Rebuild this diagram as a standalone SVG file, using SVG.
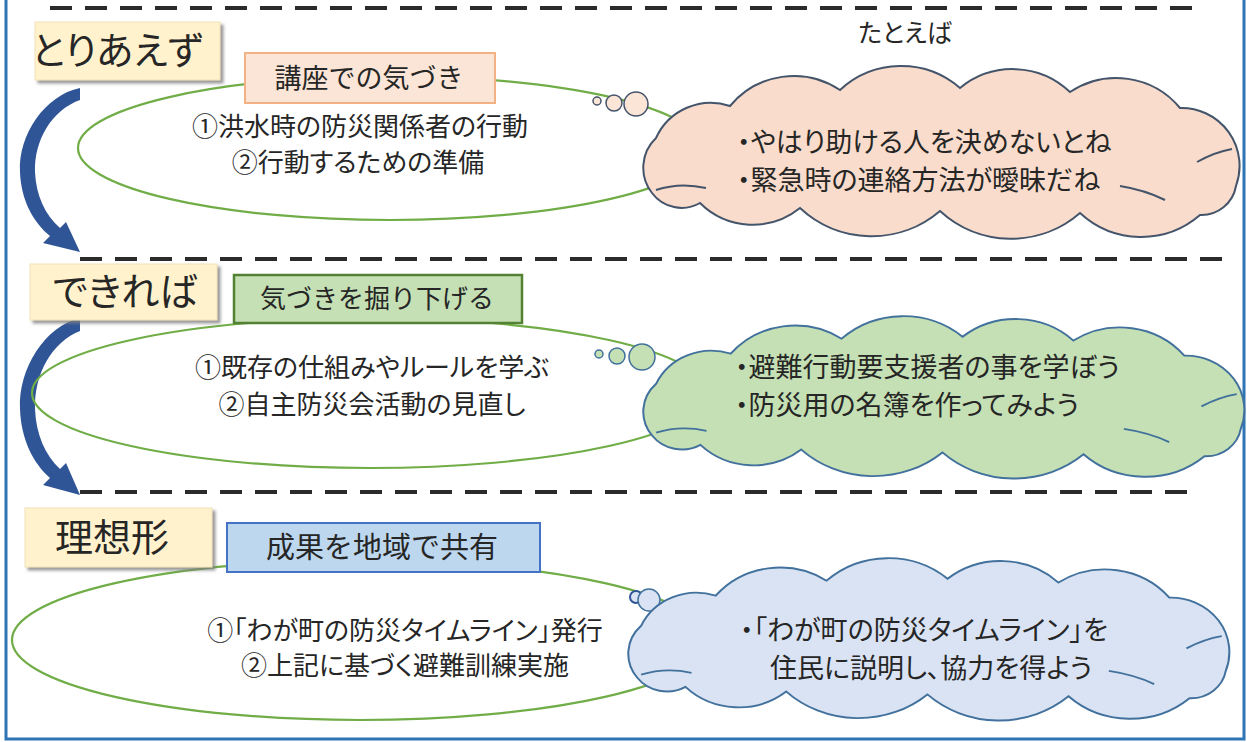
<svg xmlns="http://www.w3.org/2000/svg" xmlns:xlink="http://www.w3.org/1999/xlink" width="1247" height="742" viewBox="0 0 1247 742">
<style>
  text { font-family: "Noto Sans CJK JP", "Noto Sans CJK SC", sans-serif; fill: #262626; font-feature-settings: "palt"; }
  .lbl { font-size: 38px; text-anchor: middle; }
  .hdr { font-size: 26px; text-anchor: middle; font-feature-settings: normal; }
  .hdr27 { font-size: 27px; }
  .hdr29 { font-size: 29px; }
  .tat { font-size: 25px; text-anchor: middle; }
  .body { font-size: 26px; text-anchor: middle; }
  .cl { font-size: 27px; }
  .dash { stroke: #2b2b2b; stroke-width: 4; stroke-dasharray: 22 13; fill: none; }
  .ell { fill: none; stroke: #70AD47; stroke-width: 2.2; }
  .lblbox { fill: #FFF2CC; stroke: #f1e2b8; stroke-width: 1; filter: url(#sh); }
  .arrow { fill: #2F5597; }
  .inner { fill: none; }
</style>
<defs>
  <filter id="sh" x="-10%" y="-10%" width="130%" height="140%">
    <feDropShadow dx="3" dy="3" stdDeviation="1.5" flood-color="#7f7f7f" flood-opacity="0.8"/>
  </filter>
  <g id="cloud">
    <path d="M 12 125 A 41 41 0 0 1 16 70 A 60 60 0 0 1 90 38 A 83 83 0 0 1 200 22 A 90 90 0 0 1 320 20 A 83 83 0 0 1 430 24 A 83 83 0 0 1 540 40 A 58 58 0 0 1 596 118 A 35 35 0 0 1 560 147 A 90 90 0 0 1 440 145 A 105 105 0 0 1 300 143 A 105 105 0 0 1 160 140 A 75 75 0 0 1 60 135 A 37 37 0 0 1 12 125 Z"/>
    <path class="inner" d="M 16 122 Q 40 114 66 120 M 557 94 Q 575 84 592 81 M 480 118 Q 505 122 525 132"/>
  </g>
</defs>
<rect width="1247" height="742" fill="#ffffff"/>

<g id="frame">
  <polyline points="6,0 6,739 1244,739 1244,0" fill="none" stroke="#2E75B6" stroke-width="3"/>
</g>

<g id="separators">
  <line class="dash" x1="50" y1="8" x2="1195" y2="8"/>
  <line class="dash" x1="80" y1="259" x2="1235" y2="259"/>
  <line class="dash" x1="80" y1="492" x2="1197" y2="492"/>
</g>

<g id="connectors">
  <path class="arrow" d="M 80 88 C 45 95, 18 135, 20 172 C 21 200, 33 222, 50 236 L 43 243 L 80 252 L 66 222 L 60 228 C 45 215, 36 195, 35 172 C 34 140, 52 110, 80 100 Z"/>
  <path class="arrow" d="M 80 318 C 45 326, 18 369, 20 409 C 21 439, 33 463, 50 478 L 43 485 L 80 495 L 66 463 L 60 469 C 45 455, 36 434, 35 409 C 34 374, 52 342, 80 331 Z"/>
</g>

<g id="section1">
  <ellipse class="ell" cx="390" cy="148" rx="312" ry="72"/>
  <g id="label1">
    <rect class="lblbox" x="35" y="22" width="185" height="58"/>
    <text class="lbl" x="117" y="64">とりあえず</text>
  </g>
  <g id="header1">
    <rect x="245" y="53" width="250" height="50" fill="#FBE5D6" stroke="#F4B183" stroke-width="2"/>
    <text class="hdr hdr27" x="369" y="88">講座での気づき</text>
  </g>
  <g id="body1">
    <text class="body" x="360" y="136">①洪水時の防災関係者の行動</text>
    <text class="body" x="358" y="172">②行動するための準備</text>
  </g>
  <g id="cloud1">
    <circle cx="597" cy="101" r="4" fill="#FBE5D6" stroke="#44546A" stroke-width="1.5"/>
    <circle cx="614" cy="103" r="8" fill="#FBE5D6" stroke="#44546A" stroke-width="1.5"/>
    <circle cx="636" cy="104" r="12" fill="#FBE5D6" stroke="#44546A" stroke-width="1.5"/>
    <use xlink:href="#cloud" transform="translate(640,68)" fill="#F9DCCB" stroke="#44546A" stroke-width="2"/>
    <text class="cl" x="737" y="152">・やはり助ける人を決めないとね</text>
    <text class="cl" x="737" y="190">・緊急時の連絡方法が曖昧だね</text>
  </g>
  <text id="tatoeba" class="tat" x="905" y="42">たとえば</text>
</g>

<g id="section2">
  <ellipse class="ell" cx="370" cy="393" rx="338" ry="75"/>
  <g id="label2">
    <rect class="lblbox" x="30" y="264" width="187" height="56"/>
    <text class="lbl" x="125" y="305">できれば</text>
  </g>
  <g id="header2">
    <rect x="234" y="275" width="288" height="48" fill="#C5E0B4" stroke="#548235" stroke-width="2.5"/>
    <text class="hdr" x="377" y="308">気づきを掘り下げる</text>
  </g>
  <g id="body2">
    <text class="body" x="372" y="377">①既存の仕組みやルールを学ぶ</text>
    <text class="body" x="372" y="414">②自主防災会活動の見直し</text>
  </g>
  <g id="cloud2">
    <circle cx="599" cy="354" r="4" fill="#C5E0B4" stroke="#41719C" stroke-width="1.5"/>
    <circle cx="617" cy="356" r="8" fill="#C5E0B4" stroke="#41719C" stroke-width="1.5"/>
    <circle cx="642" cy="357" r="13" fill="#C5E0B4" stroke="#41719C" stroke-width="1.5"/>
    <use xlink:href="#cloud" transform="translate(640,318) scale(1.008,0.94)" fill="#C5E0B4" stroke="#41719C" stroke-width="2"/>
    <text class="cl" x="735" y="377">・避難行動要支援者の事を学ぼう</text>
    <text class="cl" x="735" y="415">・防災用の名簿を作ってみよう</text>
  </g>
</g>

<g id="section3">
  <ellipse class="ell" cx="360" cy="640" rx="348" ry="80"/>
  <g id="label3">
    <rect class="lblbox" x="25" y="508" width="187" height="59"/>
    <text class="lbl" x="112" y="551">理想形</text>
  </g>
  <g id="header3">
    <rect x="227" y="523" width="313" height="49" fill="#BDD7EE" stroke="#4472C4" stroke-width="2"/>
    <text class="hdr hdr29" x="382" y="558">成果を地域で共有</text>
  </g>
  <g id="body3">
    <text class="body" x="405" y="640">①「わが町の防災タイムライン」発行</text>
    <text class="body" x="405" y="675">②上記に基づく避難訓練実施</text>
  </g>
  <g id="cloud3">
    <circle cx="636" cy="597" r="6" fill="#DAE3F3" stroke="#2F5597" stroke-width="2"/>
    <circle cx="649" cy="600" r="11" fill="#DAE3F3" stroke="#41719C" stroke-width="1.5"/>
    <use xlink:href="#cloud" transform="translate(625,560) scale(1.008,0.94)" fill="#DAE3F3" stroke="#41719C" stroke-width="2"/>
    <text class="cl" x="740" y="640">・「わが町の防災タイムライン」を</text>
    <text class="cl" x="770" y="678">住民に説明し、協力を得よう</text>
  </g>
</g>
</svg>
